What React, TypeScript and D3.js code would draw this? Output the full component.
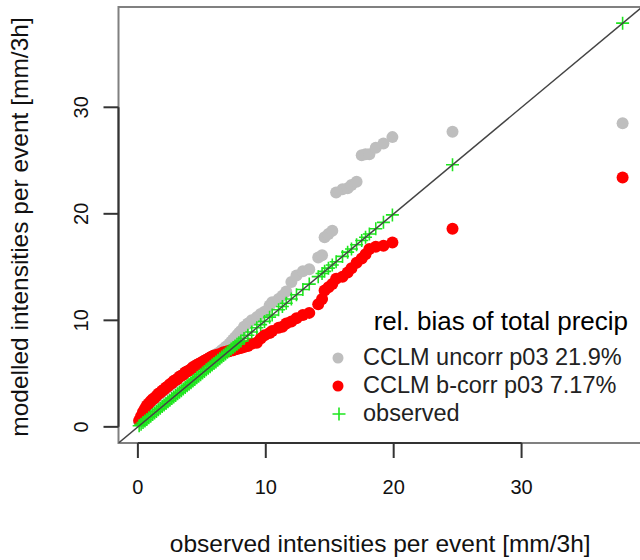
import React from "react";
import * as d3 from "d3";

// observed quantiles (x), modelled quantiles uncorrected (gray) and bias-corrected (red)
const observed = [
  0.1, 0.25, 0.4, 0.55, 0.7, 0.85, 1.0, 1.15, 1.3, 1.45, 1.6, 1.75, 1.9, 2.05, 2.2, 2.35, 2.5, 2.65,
  2.8, 2.95, 3.1, 3.25, 3.4, 3.55, 3.7, 3.85, 4.0, 4.15, 4.3, 4.45, 4.6, 4.75, 4.9, 5.05, 5.2, 5.35,
  5.5, 5.65, 5.8, 5.95, 6.1, 6.25, 6.4, 6.55, 6.7, 6.85, 7.0, 7.15, 7.3, 7.45, 7.6, 7.75, 7.9, 8.05,
  8.3, 8.6, 8.9, 9.3, 9.6, 9.9, 10.3, 10.5, 11.0, 11.3, 11.6, 12.0, 12.4, 12.9, 13.4, 14.1, 14.4,
  14.6, 14.9, 15.2, 15.5, 16.0, 16.4, 16.7, 17.1, 17.5, 17.8, 18.1, 18.6, 19.2, 19.9, 24.6, 37.9,
];
const uncorr = [
  0.5, 0.9, 1.3, 1.6, 1.9, 2.1, 2.3, 2.5, 2.6, 2.8, 3.0, 3.1, 3.3, 3.4, 3.6, 3.7, 3.9, 4.0,
  4.2, 4.3, 4.5, 4.7, 4.8, 4.9, 5.1, 5.2, 5.3, 5.4, 5.6, 5.7, 5.8, 5.9, 6.0, 6.1, 6.2, 6.3,
  6.4, 6.5, 6.6, 6.7, 6.8, 6.9, 7.0, 7.2, 7.3, 7.5, 7.6, 7.8, 8.0, 8.2, 8.4, 8.6, 8.8, 9.0,
  9.4, 9.7, 10.0, 10.3, 10.6, 10.8, 11.4, 11.7, 12.0, 12.3, 12.7, 13.6, 14.2, 14.6, 14.8, 15.9, 16.1,
  17.8, 18.1, 18.4, 22.0, 22.3, 22.4, 22.7, 23.0, 25.5, 25.6, 25.6, 26.2, 26.6, 27.2, 27.7, 28.5,
];
const bcorr = [
  0.6, 1.0, 1.4, 1.7, 2.0, 2.2, 2.4, 2.6, 2.7, 2.9, 3.1, 3.2, 3.4, 3.5, 3.7, 3.8, 4.0, 4.1,
  4.3, 4.4, 4.5, 4.7, 4.8, 4.9, 5.1, 5.2, 5.3, 5.4, 5.6, 5.7, 5.8, 5.9, 6.0, 6.1, 6.2, 6.3,
  6.4, 6.5, 6.6, 6.7, 6.7, 6.8, 6.8, 6.9, 7.0, 7.0, 7.1, 7.1, 7.2, 7.2, 7.3, 7.3, 7.4, 7.4,
  7.5, 7.6, 7.8, 7.9, 8.3, 8.6, 8.8, 9.0, 9.3, 9.4, 9.7, 9.9, 10.2, 10.5, 10.7, 11.5, 12.0,
  12.8, 13.1, 13.4, 13.9, 14.1, 14.5, 14.9, 15.4, 15.8, 16.2, 16.7, 16.9, 17.0, 17.3, 18.6, 23.4,
];

const ticks = [0, 10, 20, 30];
const legendTitle = "rel. bias of total precip";
const legendLabels = ["CCLM uncorr p03 21.9%", "CCLM b-corr p03 7.17%", "observed"];
const xTitle = "observed intensities per event [mm/3h]";
const yTitle = "modelled intensities per event [mm/3h]";

const FONT = "'Liberation Sans', Arial, Helvetica, sans-serif";

export default function App() {
  const all = [...observed, ...uncorr, ...bcorr];
  const lo = 0;
  const hi = d3.max(all) as number;
  const pad = (hi - lo) * 0.04;
  const dom: [number, number] = [lo - pad, hi + pad];

  const L = 118.5, R = 642, T = 7, B = 443;
  const x = d3.scaleLinear().domain(dom).range([L, R]);
  const y = d3.scaleLinear().domain(dom).range([B, T]);

  const grayCol = "#bebebe";
  const redCol = "#ff0000";
  const greenCol = "#1ee61e";
  const rPt = 6;
  const pl = 6.5;

  const plus = (cx: number, cy: number, k: string) => (
    <path
      key={k}
      d={`M${cx - pl},${cy}H${cx + pl}M${cx},${cy - pl}V${cy + pl}`}
      stroke={greenCol}
      strokeWidth={1.6}
      fill="none"
    />
  );

  const legX = 338;
  const legY0 = 358;
  const legDy = 28;

  return (
    <svg
      width={640}
      height={560}
      style={{ position: "absolute", left: 0, top: 0, background: "#fff" }}
      fontFamily={FONT}
    >
      <rect x={0} y={0} width={640} height={560} fill="#fff" />
      {/* box */}
      <rect x={L} y={T} width={R - L} height={B - T} fill="none" stroke="#808080" strokeWidth={2} />
      <defs>
        <clipPath id="plotclip">
          <rect x={L} y={T} width={R - L} height={B - T} />
        </clipPath>
      </defs>
      <g clipPath="url(#plotclip)">
        {observed.map((o, i) => (
          <circle key={"g" + i} cx={x(o)} cy={y(uncorr[i])} r={rPt} fill={grayCol} />
        ))}
        {observed.map((o, i) => (
          <circle key={"r" + i} cx={x(o)} cy={y(bcorr[i])} r={rPt} fill={redCol} />
        ))}
        {observed.map((o, i) => plus(x(o), y(o), "p" + i))}
        <line x1={x(dom[0])} y1={y(dom[0])} x2={x(dom[1])} y2={y(dom[1])} stroke="#444" strokeWidth={1.5} />
      </g>
      {/* x axis */}
      <line x1={x(ticks[0])} x2={x(ticks[ticks.length - 1])} y1={B} y2={B} stroke="#333" strokeWidth={2} />
      {ticks.map((t) => (
        <g key={"xt" + t}>
          <line x1={x(t)} x2={x(t)} y1={B} y2={B + 15} stroke="#333" strokeWidth={2} />
          <text x={x(t)} y={494} textAnchor="middle" fontSize={20} fill="#111">
            {t}
          </text>
        </g>
      ))}
      {/* y axis */}
      <line x1={L} x2={L} y1={y(ticks[0])} y2={y(ticks[ticks.length - 1])} stroke="#333" strokeWidth={2} />
      {ticks.map((t) => (
        <g key={"yt" + t}>
          <line x1={L - 15} x2={L} y1={y(t)} y2={y(t)} stroke="#333" strokeWidth={2} />
          <text
            transform={`translate(${88},${y(t)}) rotate(-90)`}
            textAnchor="middle"
            fontSize={20}
            fill="#111"
          >
            {t}
          </text>
        </g>
      ))}
      {/* titles */}
      <text x={(L + R) / 2} y={552} textAnchor="middle" fontSize={24.5} fill="#111">
        {xTitle}
      </text>
      <text
        transform={`translate(${28},${(T + B) / 2 + 2}) rotate(-90)`}
        textAnchor="middle"
        fontSize={24.5}
        fill="#111"
      >
        {yTitle}
      </text>
      {/* legend */}
      <text x={628} y={330} textAnchor="end" fontSize={26} fill="#000">
        {legendTitle}
      </text>
      <circle cx={legX} cy={legY0} r={5.5} fill={grayCol} />
      <circle cx={legX} cy={legY0 + legDy} r={5.5} fill={redCol} />
      {plus(legX + 1, legY0 + 2 * legDy, "legplus")}
      {legendLabels.map((lab, i) => (
        <text key={lab} x={363} y={legY0 + i * legDy + 7} fontSize={23.5} fill="#222">
          {lab}
        </text>
      ))}
    </svg>
  );
}
